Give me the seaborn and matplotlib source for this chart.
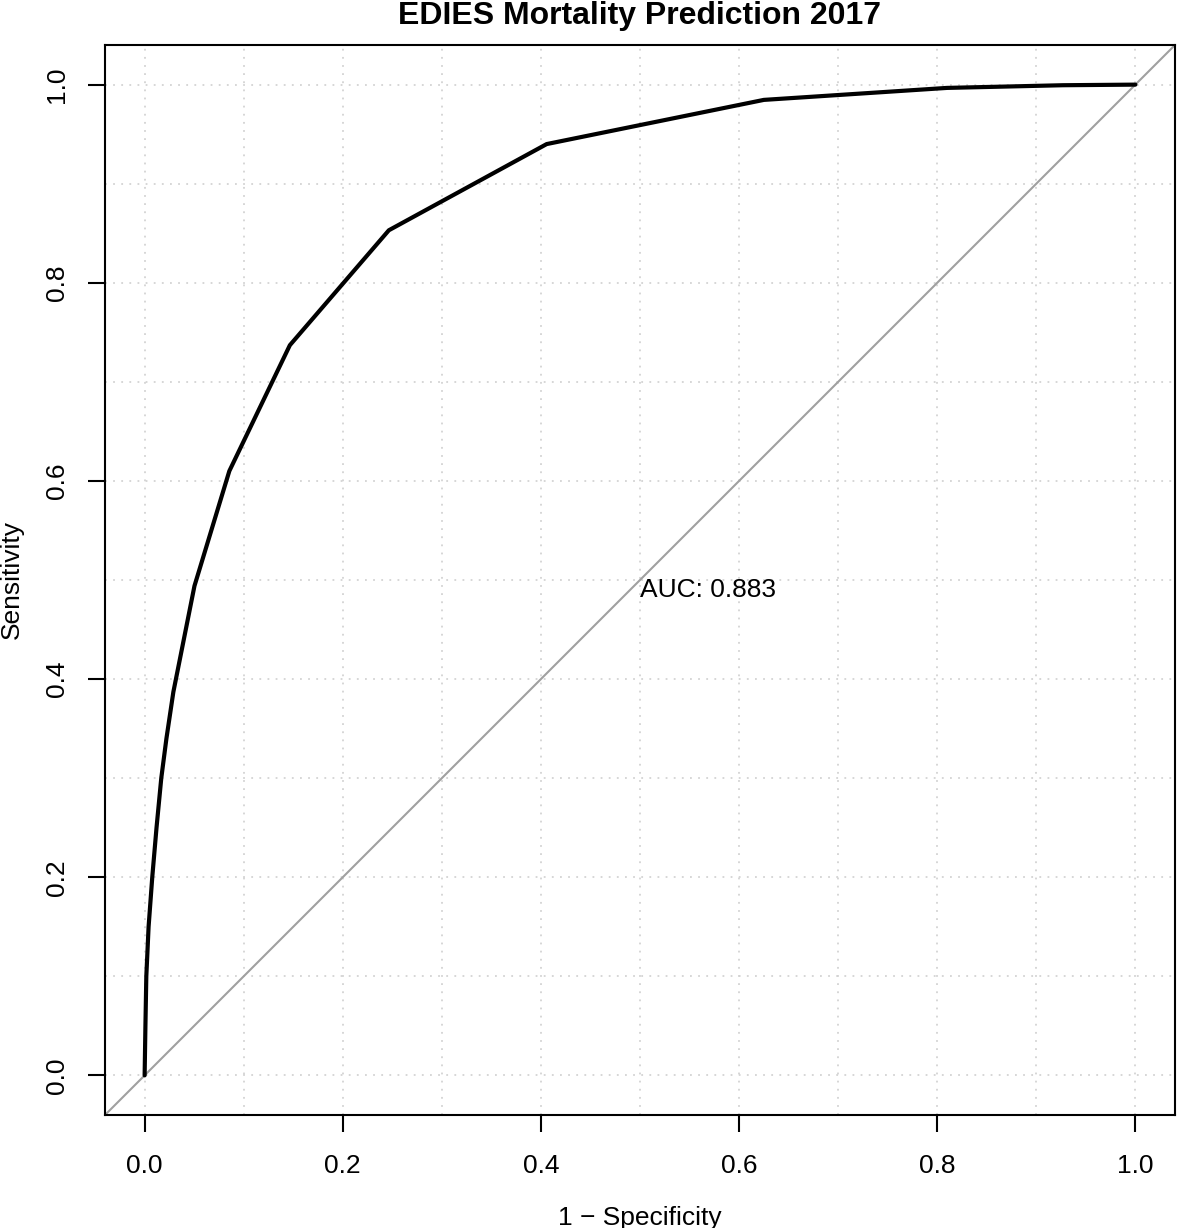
import numpy as np
import pandas as pd
import matplotlib
matplotlib.use('Agg')
import matplotlib.pyplot as plt
import seaborn as sns

# ROC curve points
fpr = [0.0, 0.0008, 0.0017, 0.004, 0.0077, 0.012, 0.0168, 0.022, 0.029,
       0.0503, 0.0855, 0.1466, 0.2465, 0.4058, 0.625, 0.81, 0.927, 1.0]
tpr = [0.0, 0.05, 0.1, 0.15, 0.2, 0.25, 0.3, 0.34, 0.387,
       0.494, 0.61, 0.737, 0.853, 0.940, 0.9846, 0.9967, 0.9994, 1.0]
auc_label = 'AUC: 0.883'
ticks = [0.0, 0.2, 0.4, 0.6, 0.8, 1.0]
grid_lines = [0.0, 0.1, 0.2, 0.3, 0.4, 0.5, 0.6, 0.7, 0.8, 0.9, 1.0]

sns.set_style('white')
plt.rcParams['font.family'] = ['Liberation Sans', 'DejaVu Sans']
plt.rcParams['text.color'] = 'black'
plt.rcParams['axes.labelcolor'] = 'black'
plt.rcParams['xtick.color'] = 'black'
plt.rcParams['ytick.color'] = 'black'

df = pd.DataFrame({'fpr': fpr, 'tpr': tpr})

fig = plt.figure(figsize=(11.79, 12.28), dpi=100)
ax = fig.add_axes([105/1179, 1 - 1115/1228, 1070/1179, 1070/1228])

# dotted grid
for g in grid_lines:
    ax.axvline(g, color='#d3d3d3', lw=1.3, linestyle=(0, (1, 3.5)), zorder=0)
    ax.axhline(g, color='#d3d3d3', lw=1.3, linestyle=(0, (1, 3.5)), zorder=0)

ax.axline((0, 0), slope=1, color='#a0a0a0', lw=1.5, zorder=1)
sns.lineplot(data=df, x='fpr', y='tpr', sort=False, color='black', lw=3.0, ax=ax, zorder=2)

ax.text(0.5, 0.49, auc_label, fontsize=19, ha='left', va='center')

ax.set_xlim(-0.04, 1.04)
ax.set_ylim(-0.04, 1.04)
ax.set_xticks(ticks)
ax.set_yticks(ticks)
ax.set_xticklabels([f'{t:.1f}' for t in ticks], fontsize=19)
ax.set_yticklabels([f'{t:.1f}' for t in ticks], fontsize=19, rotation=90, va='center')
ax.tick_params(axis='x', direction='out', length=12, width=1.5, pad=16, bottom=True)
ax.tick_params(axis='y', direction='out', length=12, width=1.5, pad=14, left=True)

for s in ax.spines.values():
    s.set_color('black')
    s.set_linewidth(1.5)
    s.set_visible(True)

ax.set_xlabel('1 \u2212 Specificity', fontsize=19, labelpad=20)
ax.set_ylabel('Sensitivity', fontsize=19, labelpad=15)
ax.set_title('EDIES Mortality Prediction 2017', fontsize=23, fontweight='bold', pad=15)

fig.savefig('out.png', dpi=100)
